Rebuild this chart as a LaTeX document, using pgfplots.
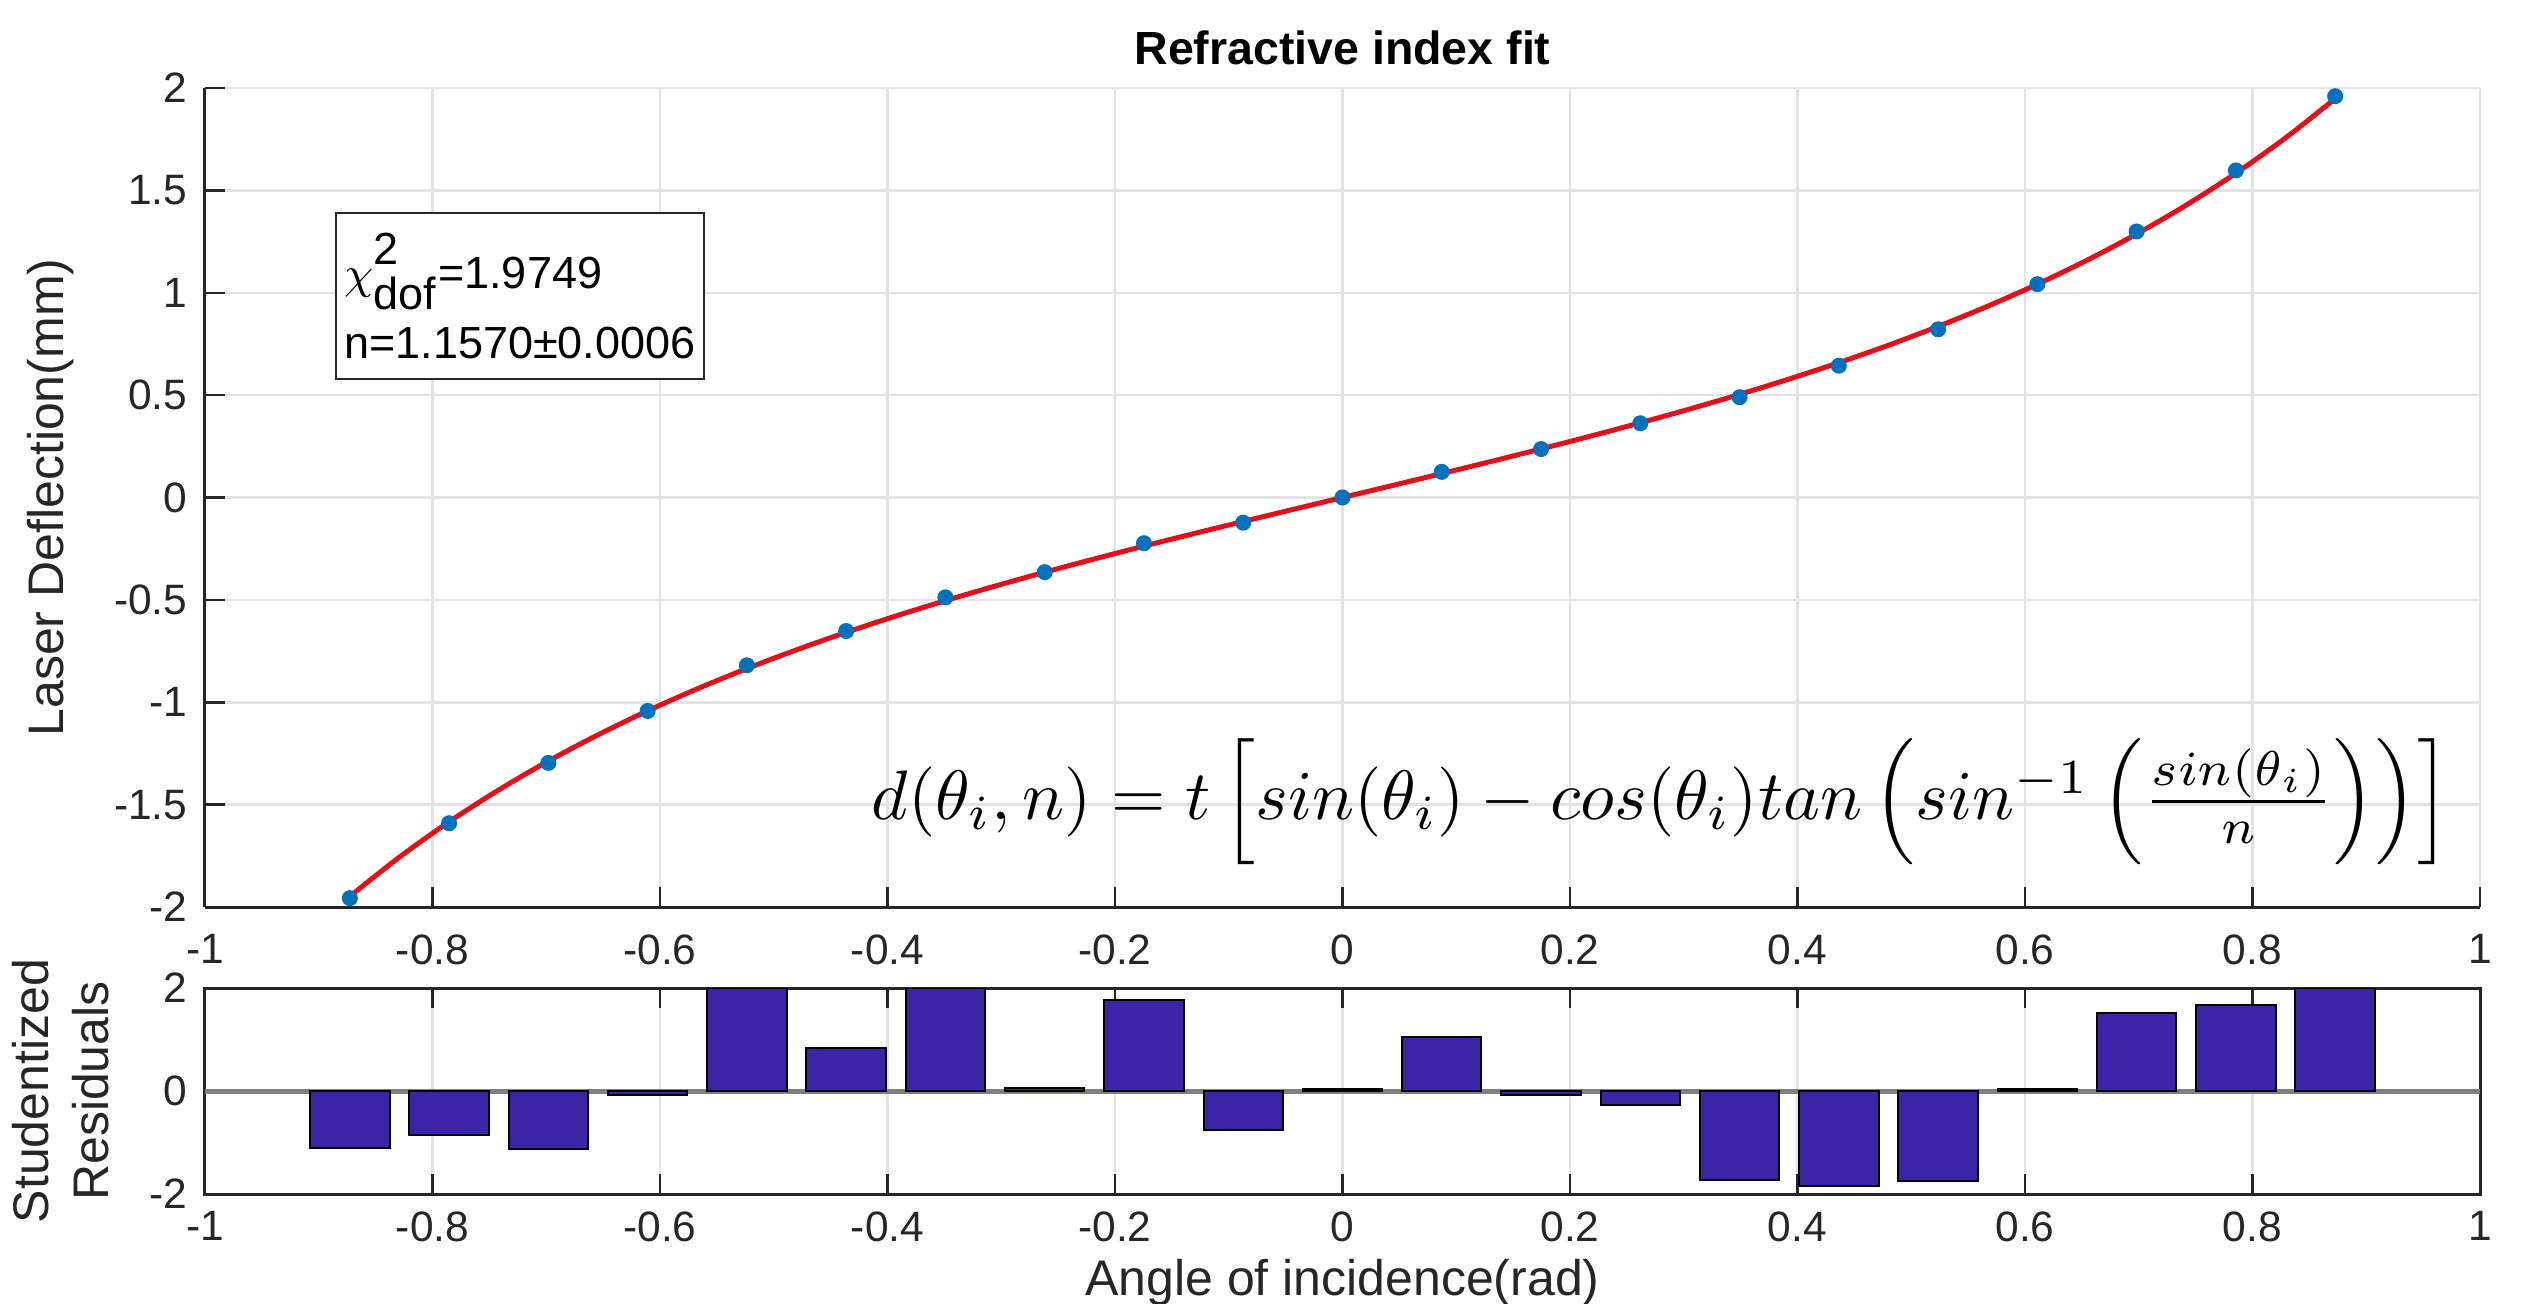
\documentclass[border=0pt]{standalone}
\usepackage{pgfplots}
\pgfplotsset{compat=1.18}
\usepackage{amsmath}
\usepackage[no-math]{fontspec}
\setmainfont{Liberation Sans}
\usetikzlibrary{calc}
\definecolor{axgray}{HTML}{262626}
\definecolor{gridgray}{HTML}{E3E3E3}
\definecolor{fitred}{HTML}{E3101A}
\definecolor{ptblue}{HTML}{0072BD}
\definecolor{barblue}{HTML}{3B25A6}

% fitted curve d(theta) = t[sin - cos tan(asin(sin/n))], n = 1.157, t = 9.83 mm
\pgfplotstableread{
x y
-0.872665 -1.9479
-0.829031 -1.7563
-0.785398 -1.5839
-0.741765 -1.4282
-0.698132 -1.2871
-0.654498 -1.1589
-0.610865 -1.0418
-0.567232 -0.9344
-0.523599 -0.8355
-0.479966 -0.7438
-0.436332 -0.6586
-0.392699 -0.5788
-0.349066 -0.5037
-0.305433 -0.4326
-0.261799 -0.3649
-0.218166 -0.3000
-0.174533 -0.2374
-0.130900 -0.1765
-0.087266 -0.1170
-0.043633 -0.0583
0 0
0.043633 0.0583
0.087266 0.1170
0.130900 0.1765
0.174533 0.2374
0.218166 0.3000
0.261799 0.3649
0.305433 0.4326
0.349066 0.5037
0.392699 0.5788
0.436332 0.6586
0.479966 0.7438
0.523599 0.8355
0.567232 0.9344
0.610865 1.0418
0.654498 1.1589
0.698132 1.2871
0.741765 1.4282
0.785398 1.5839
0.829031 1.7563
0.872665 1.9479
}\fitcurve

% measured deflection and studentized residual
\pgfplotstableread{
x y r
-0.872665 -1.9567 -1.10
-0.785398 -1.5907 -0.85
-0.698132 -1.2961 -1.13
-0.610865 -1.0424 -0.07
-0.523599 -0.8195 2.00
-0.436332 -0.6520 0.83
-0.349066 -0.4877 2.00
-0.261799 -0.3645 0.05
-0.174533 -0.2232 1.77
-0.087266 -0.1230 -0.75
0 0.0002 0.03
0.087266 0.1254 1.05
0.174533 0.2368 -0.08
0.261799 0.3627 -0.27
0.349066 0.4899 -1.72
0.436332 0.6438 -1.85
0.523599 0.8215 -1.75
0.610865 1.0421 0.04
0.698132 1.2993 1.52
0.785398 1.5973 1.68
0.872665 1.9600 2.00
}\meas

\begin{document}
\begin{tikzpicture}
\pgfplotsset{
  mlab/.style={
    scale only axis, width=455pt,
    xmin=-1, xmax=1,
    xtick={-1,-0.8,-0.6,-0.4,-0.2,0,0.2,0.4,0.6,0.8,1},
    tick align=inside, major tick length=4pt,
    tick style={axgray, line width=0.5pt},
    axis line style={axgray, line width=0.6pt},
    ticklabel style={font=\fontsize{8.5}{10}\selectfont, text=axgray},
    /pgf/number format/assume math mode=true,
    major grid style={gridgray, line width=0.5pt},
    label style={font=\fontsize{10}{12}\selectfont, text=axgray},
  }
}
\begin{axis}[mlab, name=main, height=163.8pt,
  ymin=-2, ymax=2,
  ytick={-2,-1.5,-1,-0.5,0,0.5,1,1.5,2},
  axis x line*=bottom, axis y line*=left,
  xtick pos=lower, ytick pos=left,
  xticklabel style={yshift=-2pt},
  grid=major, clip=false,
  title={Refractive index fit},
  title style={font=\fontsize{9.3}{11}\selectfont\bfseries, yshift=-5pt},
  ylabel={Laser Deflection(mm)},
  ylabel style={at={(axis description cs:-0.068,0.5)}, anchor=center, rotate=0},
]
\addplot[fitred, line width=1pt, smooth] table[x=x, y=y] {\fitcurve};
\addplot[only marks, mark=*, mark size=1.4pt, mark options={fill=ptblue, draw=ptblue}] table[x=x, y=y] {\meas};
\node[draw=axgray, line width=0.5pt, fill=white, anchor=north west, align=left,
  inner xsep=1.5pt, inner ysep=4pt, minimum width=73.6pt, minimum height=32.2pt,
  font=\fontsize{9}{14}\selectfont, text=black]
  at (axis cs:-0.886,1.396)
  {$\chi^{\raisebox{1pt}{\text{2}}}_{\raisebox{-1pt}{\text{dof}}}$=1.9749\\n=1.1570±0.0006};
\node at (axis cs:0.28,-1.485) {\scalebox{1.40}{$d(\theta_i,n)=t\left[sin(\theta_i)-cos(\theta_i)tan\left(sin^{-1}\left(\frac{sin(\theta_i)}{n}\right)\right)\right]$}};
\end{axis}

\begin{axis}[mlab, name=resid, height=41.2pt,
  at={($(main.south west)+(0,-16.2pt)$)}, anchor=north west,
  ymin=-2, ymax=2, ytick={-2,0,2},
  xmajorgrids, ymajorgrids=false,
  xlabel={Angle of incidence(rad)},
  xlabel style={at={(axis description cs:0.5,-0.432)}, anchor=center},
  ylabel={Studentized\\Residuals},
  ylabel style={align=center, at={(axis description cs:-0.0636,0.5)}, anchor=center, rotate=0},
]
\addplot[gray, line width=1pt] coordinates {(-1,0) (1,0)};
\addplot[ybar, bar width=0.0698, bar shift=0pt, fill=barblue, draw=black, line width=0.4pt] table[x=x, y=r] {\meas};
\end{axis}

\pgfresetboundingbox
\path ($(main.north west)+(-41pt,17.6pt)$) rectangle ($(resid.south east)+(10.2pt,-21.8pt)$);
\end{tikzpicture}
\end{document}
